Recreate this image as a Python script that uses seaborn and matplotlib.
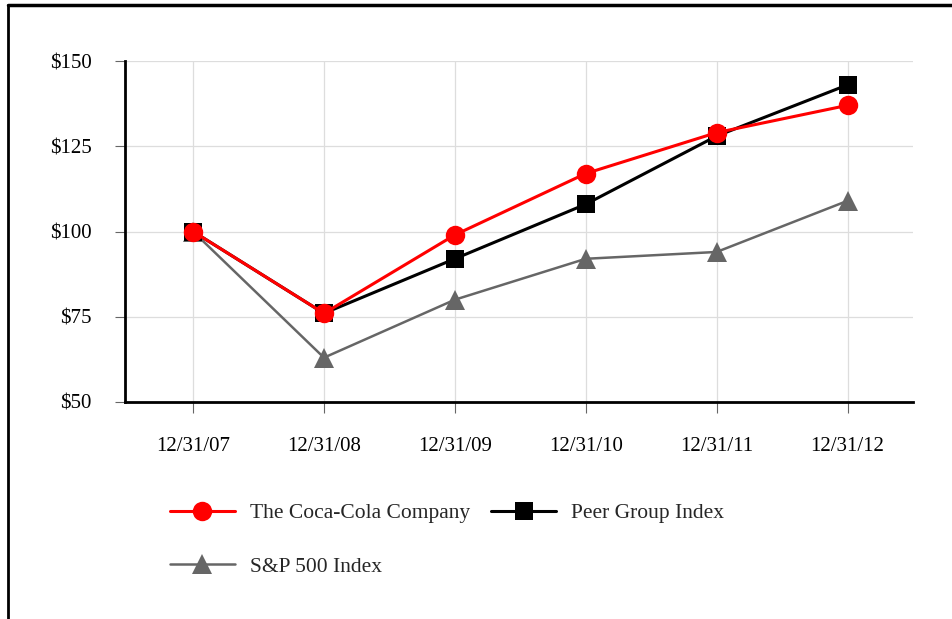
import matplotlib
matplotlib.use("Agg")
import matplotlib.pyplot as plt
import seaborn as sns
import pandas as pd
from matplotlib.lines import Line2D

dates = ["12/31/07", "12/31/08", "12/31/09", "12/31/10", "12/31/11", "12/31/12"]
coca_cola = [100, 76, 99, 117, 129, 137]
peer_group = [100, 76, 92, 108, 128, 143]
sp500 = [100, 63, 80, 92, 94, 109]
series_names = ["The Coca-Cola Company", "Peer Group Index", "S&P 500 Index"]
y_ticks = [50, 75, 100, 125, 150]

df = pd.DataFrame({
    "date": dates * 3,
    "x": list(range(len(dates))) * 3,
    "value": coca_cola + peer_group + sp500,
    "series": [series_names[0]] * 6 + [series_names[1]] * 6 + [series_names[2]] * 6,
})

sns.set_theme(style="white")
plt.rcParams["font.family"] = ["Liberation Serif", "DejaVu Serif"]

colors = {series_names[0]: "#ff0000", series_names[1]: "#000000", series_names[2]: "#666666"}
markers = {series_names[0]: "o", series_names[1]: "s", series_names[2]: "^"}
lws = {series_names[0]: 2.2, series_names[1]: 2.2, series_names[2]: 1.8}
msize = {series_names[0]: 14, series_names[1]: 13, series_names[2]: 14}

fig = plt.figure(figsize=(9.53, 6.19), dpi=100)
ax = fig.add_axes([125 / 953, 1 - 402 / 619, (913 - 125) / 953, (402 - 61) / 619])

# draw order: S&P, Peer, Coca-Cola on top
for name in [series_names[2], series_names[1], series_names[0]]:
    sub = df[df["series"] == name]
    sns.lineplot(data=sub, x="x", y="value", ax=ax, color=colors[name],
                 marker=markers[name], markersize=msize[name], markeredgewidth=0,
                 linewidth=lws[name], legend=False, zorder=3)

ax.set_xlim(-0.52, 5.5)
ax.set_ylim(50, 150)
ax.set_xticks(range(len(dates)))
ax.set_xticklabels(dates)
ax.set_yticks(y_ticks)
ax.set_yticklabels([f"${v}" for v in y_ticks])
ax.set_xlabel("")
ax.set_ylabel("")
ax.grid(True, color="#dddddd", linewidth=0.9)
ax.set_axisbelow(True)
for s in ["top", "right"]:
    ax.spines[s].set_visible(False)
for s in ["left", "bottom"]:
    ax.spines[s].set_visible(True)
    ax.spines[s].set_color("black")
    ax.spines[s].set_linewidth(2)
ax.tick_params(axis="x", length=8, width=0.8, color="#666666", direction="out",
               bottom=True, pad=17, labelsize=15, labelcolor="black")
ax.tick_params(axis="y", length=7, width=0.8, color="#666666", direction="out",
               left=True, pad=17, labelsize=15, labelcolor="black")

handles = [Line2D([0], [0], color=colors[n], marker=markers[n], markersize=msize[n],
                  markeredgewidth=0, linewidth=lws[n]) for n in series_names]
order = [0, 2, 1]
fig.legend([handles[i] for i in order], [series_names[i] for i in order],
           loc="upper left", bbox_to_anchor=(170 / 953, 1 - 503 / 619),
           ncol=2, frameon=False, fontsize=15.5, handlelength=3.0,
           handletextpad=0.7, columnspacing=1.0, labelspacing=1.55, borderpad=0,
           borderaxespad=0)

# outer frame lines (top and left)
fig.add_artist(Line2D([8 / 953, 1], [1 - 5 / 619, 1 - 5 / 619], color="black",
                      linewidth=2.5, transform=fig.transFigure))
fig.add_artist(Line2D([8 / 953, 8 / 953], [0, 1 - 5 / 619], color="black",
                      linewidth=2, transform=fig.transFigure))

fig.savefig("out.png", dpi=100)
